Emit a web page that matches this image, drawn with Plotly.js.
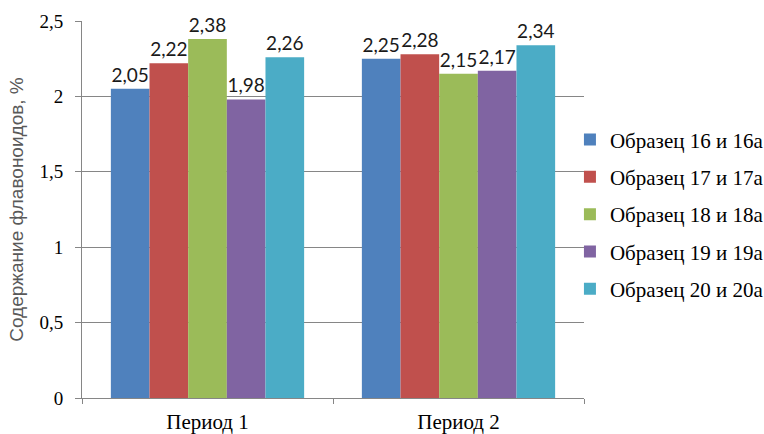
<!DOCTYPE html>
<html>
<head>
<meta charset="utf-8">
<script src="https://cdn.plot.ly/plotly-3.0.1.min.js"></script>
<style>
  html, body { margin: 0; padding: 0; background: #fff; }
  #chart { width: 764px; height: 434px; }
</style>
</head>
<body>
<div id="chart"></div>
<script>
// Flavonoid content by sample and period
const periods = ['Период 1', 'Период 2'];
const sampleNames = ['Образец 16 и 16а', 'Образец 17 и 17а', 'Образец 18 и 18а', 'Образец 19 и 19а', 'Образец 20 и 20а'];
const sample16 = [2.05, 2.25];
const sample17 = [2.22, 2.28];
const sample18 = [2.38, 2.15];
const sample19 = [1.98, 2.17];
const sample20 = [2.26, 2.34];
const yTicks = [0, 0.5, 1, 1.5, 2, 2.5];

const seriesValues = [sample16, sample17, sample18, sample19, sample20];
const seriesColors = ['#4F81BD', '#C0504D', '#9BBB59', '#8064A2', '#4BACC6'];

const serif = '"Liberation Serif", "Times New Roman", serif';
const sans = '"Liberation Sans", Arial, sans-serif';

const traces = seriesValues.map((vals, i) => ({
  type: 'bar',
  name: sampleNames[i],
  x: periods,
  y: vals,
  legendgroup: 'g' + i,
  marker: { color: seriesColors[i], line: { width: 0 } },
  texttemplate: '%{y:.2f}',
  textposition: 'outside',
  cliponaxis: false,
  textfont: { family: 'Lato, ' + sans, size: 19, color: '#1a1a1a' },
  hoverinfo: 'skip'
}));

const layout = {
  width: 764,
  height: 434,
  separators: ', ',
  margin: { l: 82, r: 180, t: 21, b: 36, autoexpand: false },
  paper_bgcolor: '#ffffff',
  plot_bgcolor: '#ffffff',
  barmode: 'group',
  bargap: 0.23,
  bargroupgap: 0,
  showlegend: true,
  legend: {
    x: 0.972, xanchor: 'left', xref: 'paper',
    y: 0.487, yanchor: 'middle',
    traceorder: 'grouped',
    tracegroupgap: 7,
    font: { family: serif, size: 21, color: '#000' },
    itemwidth: 30,
    bgcolor: 'rgba(0,0,0,0)'
  },
  xaxis: {
    type: 'category',
    showline: true,
    linecolor: '#868686',
    linewidth: 1,
    ticks: 'outside',
    tickson: 'boundaries',
    ticklen: 5,
    tickcolor: '#868686',
    ticklabelstandoff: 5,
    showgrid: false,
    tickfont: { family: serif, size: 21, color: '#000' },
    fixedrange: true
  },
  yaxis: {
    range: [0, 2.5],
    tickvals: yTicks,
    showline: true,
    linecolor: '#868686',
    linewidth: 1,
    ticks: 'outside',
    ticklen: 6,
    tickcolor: '#868686',
    ticklabelstandoff: 8,
    showgrid: true,
    gridcolor: '#868686',
    gridwidth: 1,
    zeroline: false,
    tickfont: { family: serif, size: 19, color: '#000' },
    title: {
      text: 'Содержание флавоноидов, %',
      font: { family: sans, size: 19, color: '#595959' },
      standoff: 10
    },
    fixedrange: true
  }
};

Plotly.newPlot('chart', traces, layout, { displayModeBar: false, staticPlot: true });
</script>
</body>
</html>
